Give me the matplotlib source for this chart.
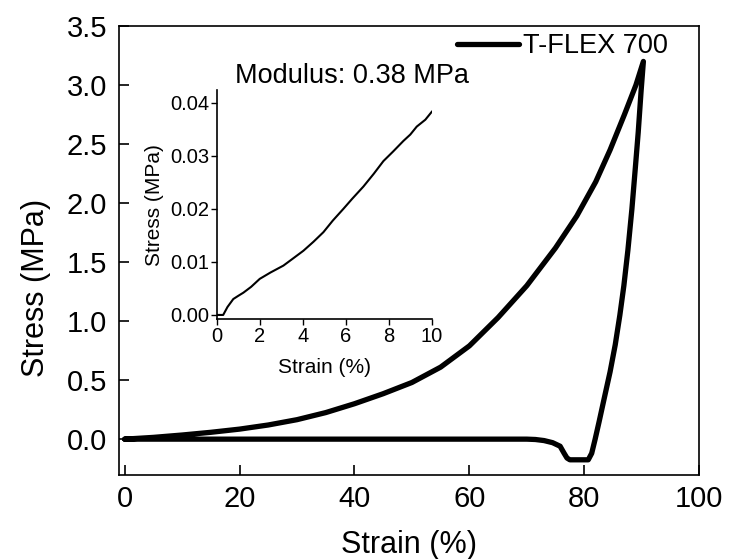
import numpy as np
import matplotlib.pyplot as plt

plt.rcParams['font.family'] = ['Liberation Sans', 'DejaVu Sans']

# Main hysteresis loop
load_strain = [0, 5, 10, 15, 20, 25, 30, 35, 40, 45, 50, 55, 60, 65, 70, 75,
               78.7, 82, 84.5, 87, 89, 90.3]
load_stress = [0, 0.015, 0.035, 0.058, 0.085, 0.12, 0.165, 0.225, 0.30, 0.385, 0.48,
               0.61, 0.79, 1.03, 1.30, 1.62, 1.89, 2.18, 2.45, 2.75, 3.0, 3.2]
unload_strain = [90.3, 89.9, 89.4, 88.9, 88.3, 87.6, 86.9, 86.2, 85.4, 84.5, 83.5,
                 82.6, 81.9, 81.3, 80.7, 77.5, 77.0, 76.5, 75.8, 74.5, 73.0, 71.5,
                 70.0, 40.0, 0]
unload_stress = [3.2, 2.95, 2.6, 2.3, 1.95, 1.6, 1.30, 1.05, 0.80, 0.57, 0.35,
                 0.15, 0.0, -0.12, -0.175, -0.175, -0.16, -0.12, -0.06, -0.03, -0.012,
                 -0.003, 0, 0, 0]

# Inset: initial linear region
inset_strain = [0, 0.3, 0.5, 0.77, 1.0, 1.24, 1.6, 2.0, 2.5, 3.1, 3.5, 4.03, 4.5, 4.96,
                5.4, 5.89, 6.3, 6.82, 7.3, 7.75, 8.2, 8.68, 9.0, 9.3, 9.7, 10.0]
inset_stress = [0, 0, 0.0015, 0.0030, 0.0036, 0.0042, 0.0053, 0.0068, 0.0080, 0.0093,
                0.0105, 0.0121, 0.0138, 0.0156, 0.0178, 0.0200, 0.0219, 0.0242, 0.0266,
                0.0290, 0.0308, 0.0328, 0.0340, 0.0355, 0.0368, 0.0383]

strain = load_strain + unload_strain
stress = load_stress + unload_stress

fig = plt.figure(figsize=(7.29, 5.59), dpi=100)
ax = fig.add_axes([0.1632, 0.150, 0.7958, 0.8035])
ax.plot(strain, stress, color='black', lw=3.8, solid_joinstyle='round',
        solid_capstyle='round', label='T-FLEX 700')
ax.set_xlim(-1, 100)
ax.set_ylim(-0.305, 3.5)
ax.set_xticks([0, 20, 40, 60, 80, 100])
ax.set_yticks(np.arange(0, 3.51, 0.5))
ax.yaxis.set_major_formatter(plt.FormatStrFormatter('%.1f'))
ax.tick_params(direction='in', length=7, width=1.2, labelsize=21)
ax.tick_params(axis='x', pad=7)
ax.tick_params(axis='y', pad=8.5)
for s in ax.spines.values():
    s.set_linewidth(1.2)
ax.set_xlabel('Strain (%)', fontsize=22, labelpad=12)
ax.set_ylabel('Stress (MPa)', fontsize=22)
ax.yaxis.set_label_coords(-0.117, 0.416)
ax.legend(loc='upper right', bbox_to_anchor=(1 - 31 / 580, 1 - 7 / 449),
          frameon=False, fontsize=19.5, handlelength=2.3, handletextpad=0.15,
          borderaxespad=0, borderpad=0)

fig.text(352 / 729, 1 - 76 / 559, 'Modulus: 0.38 MPa', fontsize=19.5,
         ha='center', va='center')

axin = fig.add_axes([0.2973, 0.429, 0.295, 0.410])
axin.plot(inset_strain, inset_stress, color='black', lw=1.5)
axin.set_xlim(0, 10)
axin.set_ylim(-0.0008, 0.0424)
axin.set_xticks([0, 2, 4, 6, 8, 10])
axin.set_yticks([0, 0.01, 0.02, 0.03, 0.04])
axin.yaxis.set_major_formatter(plt.FormatStrFormatter('%.2f'))
axin.spines['top'].set_visible(False)
axin.spines['right'].set_visible(False)
for s in ['left', 'bottom']:
    axin.spines[s].set_linewidth(1.2)
axin.tick_params(direction='out', length=4, width=1.0, labelsize=14.5, pad=1.5)
axin.set_xlabel('Strain (%)', fontsize=15, labelpad=9)
axin.set_ylabel('Stress (MPa)', fontsize=15, labelpad=4)
axin.patch.set_alpha(0)

fig.savefig('out.png', dpi=100)
